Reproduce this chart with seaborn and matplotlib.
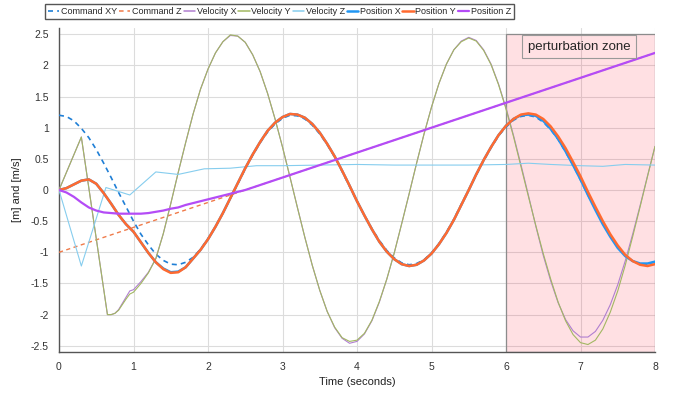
import numpy as np
import matplotlib
matplotlib.use("Agg")
import matplotlib.pyplot as plt
from matplotlib.patches import Rectangle
import seaborn as sns

sns.set_style("white")
plt.rcParams["font.family"] = ["Liberation Sans", "DejaVu Sans"]
plt.rcParams["axes.unicode_minus"] = False

# time grid, 0.1 s
t = np.round(np.arange(0, 8.01, 0.1), 1)

cmd_xy = [1.20, 1.18, 1.11, 0.99, 0.84, 0.65, 0.43, 0.20, -0.04, -0.27,
          -0.50, -0.71, -0.88, -1.03, -1.13, -1.19, -1.20, -1.16, -1.08, -0.95,
          -0.78, -0.59, -0.37, -0.13, 0.10, 0.34, 0.56, 0.76, 0.93, 1.06,
          1.15, 1.20, 1.19, 1.14, 1.04, 0.90, 0.73, 0.53, 0.30, 0.06,
          -0.18, -0.41, -0.62, -0.81, -0.97, -1.09, -1.17, -1.20, -1.18, -1.12,
          -1.01, -0.86, -0.68, -0.47, -0.23, 0.00, 0.24, 0.47, 0.68, 0.87,
          1.01, 1.12, 1.18, 1.20, 1.17, 1.09, 0.97, 0.81, 0.61, 0.40,
          0.16, -0.08, -0.31, -0.54, -0.74, -0.91, -1.05, -1.14, -1.19, -1.19,
          -1.15]

cmd_z_t = [0, 2, 4, 6, 8]
cmd_z = [-1.0, -0.2, 0.6, 1.4, 2.2]

pos_y = [0.00, 0.03, 0.09, 0.15, 0.17, 0.10, -0.05, -0.22, -0.40, -0.55,
         -0.67, -0.84, -1.01, -1.16, -1.27, -1.33, -1.32, -1.24, -1.10, -0.96,
         -0.79, -0.59, -0.37, -0.13, 0.11, 0.35, 0.57, 0.77, 0.95, 1.08,
         1.17, 1.22, 1.21, 1.16, 1.06, 0.92, 0.74, 0.54, 0.31, 0.07,
         -0.18, -0.41, -0.63, -0.83, -0.99, -1.11, -1.19, -1.22, -1.20, -1.13,
         -1.02, -0.87, -0.69, -0.48, -0.24, 0.00, 0.25, 0.48, 0.69, 0.88,
         1.03, 1.14, 1.21, 1.23, 1.21, 1.14, 1.02, 0.86, 0.67, 0.45,
         0.22, -0.03, -0.27, -0.50, -0.71, -0.89, -1.04, -1.14, -1.20, -1.22,
         -1.19]

pos_x = [0.00, 0.03, 0.09, 0.15, 0.17, 0.10, -0.05, -0.22, -0.40, -0.55,
         -0.67, -0.84, -1.01, -1.16, -1.26, -1.32, -1.31, -1.24, -1.10, -0.96,
         -0.79, -0.59, -0.37, -0.13, 0.11, 0.35, 0.57, 0.77, 0.95, 1.08,
         1.17, 1.22, 1.21, 1.16, 1.06, 0.92, 0.74, 0.54, 0.31, 0.07,
         -0.18, -0.41, -0.63, -0.83, -0.99, -1.11, -1.19, -1.22, -1.20, -1.13,
         -1.02, -0.87, -0.69, -0.48, -0.24, 0.00, 0.25, 0.48, 0.69, 0.88,
         1.03, 1.14, 1.20, 1.21, 1.19, 1.11, 0.98, 0.82, 0.62, 0.40,
         0.17, -0.08, -0.32, -0.55, -0.75, -0.93, -1.06, -1.14, -1.18, -1.18,
         -1.15]

pos_z_t = [0.0, 0.1, 0.2, 0.3, 0.4, 0.5, 0.6, 0.7, 0.8, 0.9, 1.0, 1.1, 1.2,
           1.3, 1.4, 1.5, 1.6, 1.7, 1.8, 1.9, 2.0, 2.1, 2.2, 2.3, 2.4, 2.5,
           3.0, 4.0, 5.0, 6.0, 7.0, 8.0]
pos_z = [0.00, -0.04, -0.11, -0.20, -0.28, -0.33, -0.36, -0.37, -0.38, -0.38,
         -0.38, -0.38, -0.37, -0.35, -0.33, -0.30, -0.28, -0.24, -0.21, -0.18,
         -0.15, -0.12, -0.09, -0.06, -0.03, 0.00,
         0.20, 0.60, 1.00, 1.40, 1.80, 2.20]

vel_t = [0.0, 0.3, 0.65, 0.7, 0.75, 0.8, 0.85, 0.9, 0.95, 1.0, 1.1, 1.2, 1.3, 1.4] + \
    list(np.round(np.arange(1.5, 8.01, 0.1), 1))

vel_x = [0.00, 0.85, -2.00, -2.00, -1.98, -1.92, -1.82, -1.72, -1.62, -1.60, -1.47, -1.32, -1.10, -0.70,
         -0.22, 0.28, 0.76, 1.22, 1.62, 1.94, 2.20, 2.38, 2.48, 2.47,
         2.37, 2.17, 1.90, 1.55, 1.14, 0.69, 0.21, -0.28, -0.76, -1.21,
         -1.61, -1.95, -2.21, -2.38, -2.46, -2.43, -2.31, -2.10, -1.80, -1.43,
         -1.01, -0.54, -0.06, 0.43, 0.90, 1.33, 1.71, 2.02, 2.25, 2.39,
         2.45, 2.40, 2.25, 2.02, 1.70, 1.32, 0.88, 0.41, -0.08, -0.58,
         -1.05, -1.46, -1.81, -2.08, -2.26, -2.36, -2.36, -2.27, -2.09, -1.84,
         -1.52, -1.14, -0.71, -0.25, 0.23, 0.70]

vel_y = [0.00, 0.85, -2.00, -2.00, -1.98, -1.93, -1.84, -1.75, -1.67, -1.64, -1.50, -1.33, -1.10, -0.70,
         -0.22, 0.28, 0.76, 1.22, 1.62, 1.94, 2.20, 2.38, 2.49, 2.47,
         2.37, 2.17, 1.90, 1.55, 1.14, 0.69, 0.21, -0.28, -0.76, -1.21,
         -1.61, -1.95, -2.20, -2.37, -2.43, -2.41, -2.30, -2.09, -1.79, -1.43,
         -1.01, -0.54, -0.06, 0.43, 0.90, 1.33, 1.71, 2.02, 2.25, 2.38,
         2.44, 2.39, 2.24, 2.01, 1.69, 1.30, 0.86, 0.38, -0.10, -0.57,
         -1.02, -1.43, -1.80, -2.10, -2.32, -2.45, -2.48, -2.41, -2.23, -1.96,
         -1.62, -1.21, -0.75, -0.27, 0.22, 0.70]

vel_z_t = [0, 0.3, 0.63, 0.95, 1.3, 1.6, 1.95, 2.3, 2.65, 3.0, 3.5, 4.0, 4.5,
           5.0, 5.5, 6.0, 6.3, 6.6, 7.0, 7.3, 7.6, 8.0]
vel_z = [0.00, -1.22, 0.04, -0.08, 0.29, 0.25, 0.34, 0.35, 0.39, 0.39, 0.40,
         0.41, 0.40, 0.40, 0.40, 0.41, 0.43, 0.41, 0.39, 0.38, 0.41, 0.40]

series = [
    ("Command XY", t, cmd_xy, "#1f7fd6", 1.2, (0, (3, 2.5))),
    ("Command Z", cmd_z_t, cmd_z, "#f07b4a", 1.0, (0, (3, 2.5))),
    ("Velocity X", vel_t, vel_x, "#b07fd0", 0.8, "-"),
    ("Velocity Y", vel_t, vel_y, "#a2b862", 0.8, "-"),
    ("Velocity Z", vel_z_t, vel_z, "#86cdee", 0.8, "-"),
    ("Position X", t, pos_x, "#2196f3", 1.8, "-"),
    ("Position Y", t, pos_y, "#ff6a30", 1.8, "-"),
    ("Position Z", pos_z_t, pos_z, "#b44cf6", 1.6, "-"),
]

fig = plt.figure(figsize=(6.76, 3.94), dpi=100)
ax = fig.add_axes([59 / 676, 1 - 352 / 394, 596 / 676, 324 / 394])

ax.add_patch(Rectangle((6, -2.6), 2, 5.1, facecolor=(1, 0, 0.12, 0.12),
                       edgecolor="#8c8c8c", lw=0.9, zorder=1))

for name, xs, ys, color, lw, ls in series:
    sns.lineplot(x=list(xs), y=ys, ax=ax, color=color, lw=lw, linestyle=ls,
                 label=name, estimator=None, sort=False, zorder=3)

ax.text(6.29, 2.30, "perturbation zone", fontsize=9.5, va="center", ha="left",
        bbox=dict(boxstyle="square,pad=0.4", facecolor="none",
                  edgecolor="#999999", lw=0.8), zorder=4)

ax.set_xlim(0, 8)
ax.set_ylim(-2.6, 2.6)
ax.set_xticks(range(0, 9))
ax.set_yticks(np.arange(-2.5, 2.51, 0.5))
ax.set_yticklabels(["-2.5", "-2", "-1.5", "-1", "-0.5", "0", "0.5", "1",
                    "1.5", "2", "2.5"])
ax.grid(True, color="#dcdcdc", lw=0.8, zorder=0)
ax.set_axisbelow(True)
for s in ["top", "right"]:
    ax.spines[s].set_visible(False)
for s in ["left", "bottom"]:
    ax.spines[s].set_color("#555555")
    ax.spines[s].set_linewidth(1.0)
ax.tick_params(axis="both", direction="out", length=4, width=0.8,
               colors="#555555", labelcolor="#333333", labelsize=7.5)
ax.set_xlabel("Time (seconds)", fontsize=8, color="#222222", labelpad=3)
ax.set_ylabel("[m] and [m/s]", fontsize=8, color="#222222", labelpad=6)

leg = ax.legend(loc="upper left", bbox_to_anchor=(45 / 676, 1 - 4 / 394),
                bbox_transform=fig.transFigure, ncol=8, fontsize=6.5,
                handlelength=1.25, handletextpad=0.2, columnspacing=0.2,
                borderpad=0.35, borderaxespad=0, frameon=True, fancybox=False,
                edgecolor="#555555", framealpha=1)
for line in leg.get_lines():
    line.set_linewidth(max(line.get_linewidth(), 1.1))

fig.savefig("out.png", dpi=100)
print("Saved: out.png")
